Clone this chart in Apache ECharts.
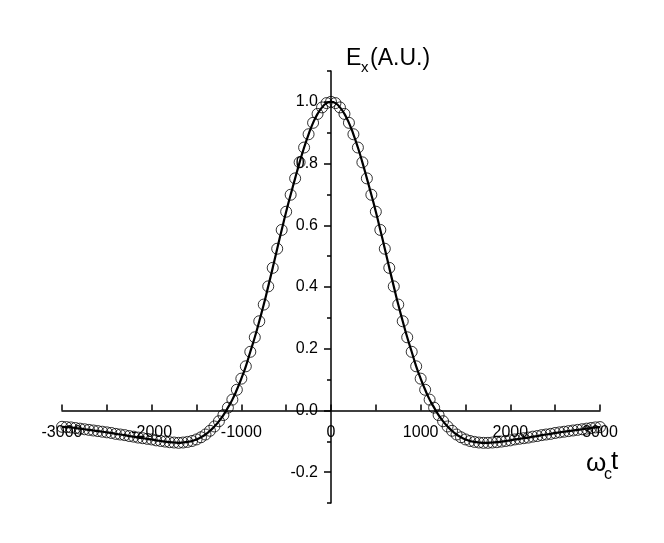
<!DOCTYPE html>
<html>
<head>
<meta charset="utf-8">
<script src="https://cdn.jsdelivr.net/npm/echarts@6/dist/echarts.min.js"></script>
<style>
  html, body { margin: 0; padding: 0; background: #fff; }
  #main { width: 664px; height: 543px; }
</style>
</head>
<body>
<div id="main"></div>
<script>
// time axis (omega_c t), one point every 50
var tValues = [
    -3000, -2950, -2900, -2850, -2800, -2750, -2700, -2650, -2600, -2550,
    -2500, -2450, -2400, -2350, -2300, -2250, -2200, -2150, -2100, -2050,
    -2000, -1950, -1900, -1850, -1800, -1750, -1700, -1650, -1600, -1550,
    -1500, -1450, -1400, -1350, -1300, -1250, -1200, -1150, -1100, -1050,
    -1000, -950, -900, -850, -800, -750, -700, -650, -600, -550,
    -500, -450, -400, -350, -300, -250, -200, -150, -100, -50,
    0,
    50, 100, 150, 200, 250, 300, 350, 400, 450, 500,
    550, 600, 650, 700, 750, 800, 850, 900, 950, 1000,
    1050, 1100, 1150, 1200, 1250, 1300, 1350, 1400, 1450, 1500,
    1550, 1600, 1650, 1700, 1750, 1800, 1850, 1900, 1950, 2000,
    2050, 2100, 2150, 2200, 2250, 2300, 2350, 2400, 2450, 2500,
    2550, 2600, 2650, 2700, 2750, 2800, 2850, 2900, 2950, 3000
];

// Ex (A.U.)
var exValues = [
    -0.053, -0.054, -0.055, -0.057, -0.059, -0.061, -0.063, -0.065, -0.067, -0.069,
    -0.071, -0.073, -0.076, -0.078, -0.080, -0.083, -0.085, -0.088, -0.090, -0.092,
    -0.094, -0.097, -0.099, -0.101, -0.103, -0.104, -0.105, -0.104, -0.102, -0.099,
    -0.094, -0.087, -0.078, -0.066, -0.052, -0.035, -0.015, 0.009, 0.035, 0.067,
    0.103, 0.143, 0.190, 0.237, 0.289, 0.343, 0.402, 0.462, 0.524, 0.585,
    0.644, 0.699, 0.752, 0.804, 0.852, 0.895, 0.932, 0.961, 0.982, 0.996,
    1.000,
    0.996, 0.982, 0.961, 0.932, 0.895, 0.852, 0.804, 0.752, 0.699, 0.644,
    0.585, 0.524, 0.462, 0.402, 0.343, 0.289, 0.237, 0.190, 0.143, 0.103,
    0.067, 0.035, 0.009, -0.015, -0.035, -0.052, -0.066, -0.078, -0.087, -0.094,
    -0.099, -0.102, -0.104, -0.105, -0.105, -0.104, -0.103, -0.101, -0.099, -0.097,
    -0.094, -0.092, -0.090, -0.088, -0.085, -0.083, -0.080, -0.078, -0.076, -0.073,
    -0.071, -0.069, -0.067, -0.065, -0.063, -0.061, -0.059, -0.057, -0.055, -0.054, -0.053
];

var yLabelValues = [-0.2, 0, 0.2, 0.4, 0.6, 0.8, 1.0];
var yMinorValues = [-0.3, -0.2, -0.1, 0, 0.1, 0.2, 0.3, 0.4, 0.5, 0.6, 0.7, 0.8, 0.9, 1.0, 1.1];

var FONT = 'Liberation Sans';

function buildChart(divId) {
    var dom = document.getElementById(divId);
    var chart = echarts.init(dom, null, { renderer: 'canvas' });

    var gridLeft = 62, gridRight = 64, gridTop = 71, gridBottom = 40;
    var xMin = -3000, xMax = 3000, yMin = -0.3, yMax = 1.1;
    var gw = 664 - gridLeft - gridRight;
    var gh = 543 - gridTop - gridBottom;
    // shift the axes so they cross at (0, 0)
    var xOffset = -gh * (0 - yMin) / (yMax - yMin);
    var yOffset = -gw * (0 - xMin) / (xMax - xMin);

    var pts = [];
    for (var i = 0; i < tValues.length; i++) {
        pts.push([tValues[i], exValues[i]]);
    }

    var tickLine = { color: '#000', width: 1.5 };

    var option = {
        animation: false,
        backgroundColor: '#fff',
        grid: { left: gridLeft, right: gridRight, top: gridTop, bottom: gridBottom },
        xAxis: {
            type: 'value',
            min: xMin,
            max: xMax,
            interval: 1000,
            position: 'bottom',
            offset: xOffset,
            axisLine: { onZero: false, lineStyle: tickLine },
            axisTick: { inside: true, length: 6, lineStyle: tickLine },
            minorTick: { show: true, splitNumber: 2, length: 6, lineStyle: tickLine },
            splitLine: { show: false },
            axisLabel: {
                margin: 14,
                color: '#000',
                fontSize: 16,
                fontFamily: FONT,
                showMinLabel: true,
                showMaxLabel: true,
                formatter: function (v) { return String(v); }
            }
        },
        yAxis: [{
            type: 'value',
            min: yMin,
            max: yMax,
            interval: 0.1,
            position: 'left',
            offset: yOffset,
            axisLine: { onZero: false, lineStyle: tickLine },
            axisTick: { length: 4, customValues: yMinorValues, lineStyle: tickLine },
            splitLine: { show: false },
            axisLabel: {
                margin: 13,
                color: '#000',
                fontSize: 16,
                fontFamily: FONT,
                customValues: yLabelValues,
                formatter: function (v) { return v.toFixed(1); }
            }
        }, {
            type: 'value',
            min: yMin,
            max: yMax,
            interval: 0.1,
            position: 'left',
            offset: yOffset,
            axisLine: { show: false, onZero: false },
            axisTick: { length: 7, customValues: yLabelValues, lineStyle: tickLine },
            splitLine: { show: false },
            axisLabel: { show: false }
        }],
        series: [{
            type: 'line',
            data: pts,
            smooth: true,
            showSymbol: false,
            lineStyle: { color: '#000', width: 2.2 },
            z: 3
        }, {
            type: 'scatter',
            data: pts,
            symbol: 'circle',
            symbolSize: 11,
            itemStyle: { color: 'rgba(0,0,0,0)', borderColor: '#000', borderWidth: 1 },
            z: 2
        }],
        graphic: [
            { type: 'text', x: 346, y: 59, style: { text: 'E', fontSize: 23, fontFamily: FONT, fill: '#000', verticalAlign: 'middle' } },
            { type: 'text', x: 361, y: 68, style: { text: 'x', fontSize: 15, fontFamily: FONT, fill: '#000', verticalAlign: 'middle' } },
            { type: 'text', x: 370, y: 59, style: { text: '(A.U.)', fontSize: 23, fontFamily: FONT, fill: '#000', verticalAlign: 'middle' } },
            { type: 'text', x: 586, y: 464, style: { text: 'ω', fontSize: 26, fontFamily: FONT, fill: '#000', verticalAlign: 'middle' } },
            { type: 'text', x: 604, y: 475, style: { text: 'c', fontSize: 16, fontFamily: FONT, fill: '#000', verticalAlign: 'middle' } },
            { type: 'text', x: 611, y: 462, style: { text: 't', fontSize: 26, fontFamily: FONT, fill: '#000', verticalAlign: 'middle' } }
        ]
    };

    chart.setOption(option);
    window.addEventListener('resize', function () {
        chart.resize();
    });
}

buildChart('main');
</script>
</body>
</html>
